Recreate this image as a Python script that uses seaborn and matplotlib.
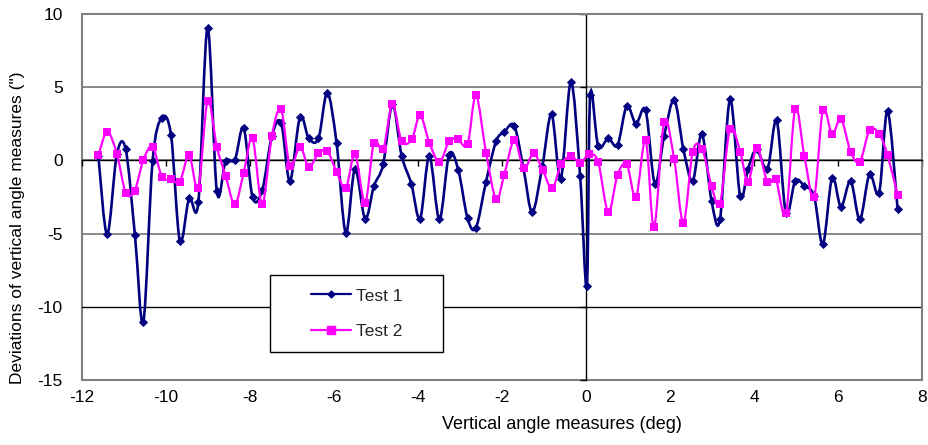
import numpy as np
import matplotlib
matplotlib.use("Agg")
import matplotlib.pyplot as plt
from matplotlib.path import Path
from matplotlib.patches import PathPatch, Rectangle
from matplotlib.lines import Line2D
import seaborn as sns

# ---------------- data ----------------
x_test1 = [-11.61, -11.40, -11.17, -10.96, -10.74, -10.54, -10.32, -10.10, -9.88, -9.67,
           -9.45, -9.23, -9.01, -8.79, -8.58, -8.36, -8.15, -7.94, -7.71, -7.48,
           -7.26, -7.05, -6.81, -6.60, -6.37, -6.16, -5.94, -5.72, -5.50, -5.26,
           -5.05, -4.83, -4.61, -4.39, -4.16, -3.95, -3.73, -3.49, -3.26, -3.04,
           -2.82, -2.62, -2.38, -2.14, -1.95, -1.71, -1.49, -1.28, -1.04, -0.82,
           -0.60, -0.36, -0.14, 0.02, 0.10, 0.29, 0.53, 0.75, 0.97, 1.19,
           1.42, 1.64, 1.86, 2.10, 2.32, 2.54, 2.76, 2.99, 3.19, 3.43,
           3.67, 3.86, 4.06, 4.32, 4.54, 4.76, 4.98, 5.20, 5.43, 5.64,
           5.86, 6.07, 6.30, 6.52, 6.75, 6.98, 7.18, 7.42]
y_test1 = [0.29, -5.05, 0.41, 0.75, -5.10, -11.04, -0.05, 2.91, 1.71, -5.51,
           -2.59, -2.85, 9.06, -2.10, -0.05, 0.05, 2.23, -2.51, -2.05, 1.66,
           2.57, -1.41, 2.96, 1.50, 1.50, 4.62, 1.21, -4.94, -0.57, -3.98,
           -1.75, -0.27, 3.82, 0.32, -1.58, -3.98, 0.29, -4.03, 0.39, -0.66,
           -3.96, -4.59, -1.45, 1.32, 1.91, 2.37, -0.53, -3.53, -0.41, 3.14,
           -1.25, 5.34, -1.07, -8.58, 4.44, 0.98, 1.50, 1.04, 3.71, 2.51,
           3.41, -1.59, 1.66, 4.12, 0.75, -1.41, 1.80, -2.78, -4.03, 4.16,
           -2.44, -0.57, 0.75, -0.57, 2.73, -3.62, -1.41, -1.75, -2.44, -5.73,
           -1.18, -3.16, -1.41, -4.03, -0.96, -2.20, 3.37, -3.34]

x_test2 = [-11.61, -11.40, -11.17, -10.96, -10.75, -10.54, -10.32, -10.10, -9.88, -9.67,
           -9.45, -9.23, -9.01, -8.79, -8.58, -8.36, -8.15, -7.94, -7.71, -7.48,
           -7.26, -7.05, -6.81, -6.60, -6.37, -6.16, -5.94, -5.72, -5.50, -5.26,
           -5.05, -4.83, -4.61, -4.39, -4.15, -3.95, -3.73, -3.49, -3.26, -3.05,
           -2.82, -2.62, -2.38, -2.14, -1.95, -1.71, -1.48, -1.25, -1.03, -0.81,
           -0.59, -0.36, -0.14, 0.08, 0.29, 0.53, 0.75, 0.97, 1.19, 1.42,
           1.62, 1.86, 2.10, 2.32, 2.54, 2.76, 2.99, 3.19, 3.43, 3.67,
           3.86, 4.07, 4.32, 4.52, 4.76, 4.98, 5.20, 5.43, 5.64, 5.86,
           6.07, 6.30, 6.52, 6.75, 6.98, 7.18, 7.42]
y_test2 = [0.36, 1.96, 0.46, -2.20, -2.10, 0.02, 0.94, -1.11, -1.30, -1.45,
           0.34, -1.86, 4.05, 0.94, -1.07, -3.00, -0.84, 1.50, -3.00, 1.66,
           3.48, -0.39, 0.94, -0.46, 0.48, 0.63, -0.77, -1.91, 0.41, -2.89,
           1.21, 0.75, 3.82, 1.32, 1.43, 3.07, 1.21, -0.12, 1.32, 1.43,
           1.09, 4.44, 0.53, -2.66, -1.02, 1.37, -0.55, 0.48, -0.66, -1.91,
           -0.27, 0.29, -0.16, 0.41, -0.12, -3.53, -1.00, -0.27, -2.51, 1.39,
           -4.55, 2.64, 0.07, -4.25, 0.57, 0.80, -1.75, -2.96, 2.16, 0.59,
           -1.48, 0.87, -1.48, -1.30, -3.62, 3.53, 0.29, -2.51, 3.41, 1.77,
           2.85, 0.59, -0.09, 2.05, 1.82, 0.34, -2.37]

series_names = ["Test 1", "Test 2"]
x_ticks = [-12, -10, -8, -6, -4, -2, 0, 2, 4, 6, 8]
y_ticks = [-15, -10, -5, 0, 5, 10]
x_label = "Vertical angle measures (deg)"
y_label = "Deviations of vertical angle measures (\")"

# ---------------- style ----------------
sns.set_style("white")
plt.rcParams["font.family"] = ["Liberation Sans", "DejaVu Sans"]
plt.rcParams["axes.unicode_minus"] = False
FS_TICK = 12.5
FS_XLAB = 13
FS_YLAB = 12.5
FS_LEG = 12.5
NAVY = "#000080"
PINK = "#FF00FF"
GRID = "#808080"


def smooth_path(xs, ys):
    """Excel-like smoothed line: cubic Bezier segments through the data points."""
    P = np.column_stack([xs, ys]).astype(float)
    n = len(P)
    verts = [P[0]]
    codes = [Path.MOVETO]
    for i in range(n - 1):
        p0 = P[i - 1] if i > 0 else P[i]
        p1 = P[i]
        p2 = P[i + 1]
        p3 = P[i + 2] if i + 2 < n else P[i + 1]
        verts += [p1 + (p2 - p0) / 6.0, p2 - (p3 - p1) / 6.0, p2]
        codes += [Path.CURVE4] * 3
    return Path(verts, codes)


fig = plt.figure(figsize=(9.29, 4.45), dpi=100)
ax = fig.add_axes([82 / 929, 1 - 380 / 445, 840 / 929, 366 / 445])

# Test 1
ax.add_patch(PathPatch(smooth_path(x_test1, y_test1), fill=False,
                       edgecolor=NAVY, lw=1.9, zorder=3, transform=ax.transData))
sns.scatterplot(x=x_test1, y=y_test1, ax=ax, marker="D", s=22, color=NAVY,
                edgecolor=NAVY, linewidth=0, zorder=4, legend=False)
# Test 2
ax.add_patch(PathPatch(smooth_path(x_test2, y_test2), fill=False,
                       edgecolor=PINK, lw=1.6, zorder=5, transform=ax.transData))
sns.scatterplot(x=x_test2, y=y_test2, ax=ax, marker="s", s=34, color=PINK,
                edgecolor=PINK, linewidth=0, zorder=6, legend=False)

ax.set_xlim(x_ticks[0], x_ticks[-1])
ax.set_ylim(y_ticks[0], y_ticks[-1])
ax.set_xticks(x_ticks)
ax.set_yticks(y_ticks)

# axes crossing at zero (Excel style) with small tick marks, labels on the outer frame
ax.spines["left"].set_position(("data", 0))
ax.spines["bottom"].set_position(("data", 0))
for s in ("left", "bottom"):
    ax.spines[s].set_color("black")
    ax.spines[s].set_linewidth(1.0)
    ax.spines[s].set_zorder(2.5)
for s in ("top", "right"):
    ax.spines[s].set_color(GRID)
    ax.spines[s].set_linewidth(1.5)
ax.tick_params(axis="both", which="major", direction="out", length=4, width=1,
               color="black", labelbottom=False, labelleft=False,
               bottom=True, left=True)

ax.grid(axis="y", color=GRID, lw=1.3)
ax.grid(axis="x", visible=False)
ax.set_axisbelow(True)
for tick_val, gl in zip(y_ticks, ax.yaxis.get_gridlines()):
    if tick_val == -10:
        gl.set_color("black")
        gl.set_linewidth(1.0)

secx = ax.secondary_xaxis("bottom")
secx.set_xticks(x_ticks)
secx.tick_params(length=0, pad=7, labelsize=FS_TICK, labelcolor="black")
secx.spines["bottom"].set_color(GRID)
secx.spines["bottom"].set_linewidth(1.5)

secy = ax.secondary_yaxis("left")
secy.set_yticks(y_ticks)
secy.tick_params(length=0, pad=14, labelsize=FS_TICK, labelcolor="black")
secy.spines["left"].set_color(GRID)
secy.spines["left"].set_linewidth(1.5)

ax.set_xlabel(x_label, fontsize=FS_XLAB, color="black")
ax.xaxis.set_label_coords(0.571, -0.098)
ax.set_ylabel(y_label, fontsize=FS_YLAB, color="black")
ax.yaxis.set_label_coords(-0.068, 0.415)

# legend box
ax.add_patch(Rectangle((0.2238, 0.0765), 0.206, 0.210, transform=ax.transAxes,
                       facecolor="white", edgecolor="black", lw=1.0, zorder=7))
handles = [Line2D([], [], color=NAVY, lw=1.6, marker="D", markersize=3.5),
           Line2D([], [], color=PINK, lw=1.6, marker="s", markersize=5.5)]
leg = ax.legend(handles, series_names, loc="center", bbox_to_anchor=(0.3268, 0.1817),
                frameon=False, fontsize=FS_LEG, handlelength=2.3, handletextpad=0.3,
                labelspacing=1.15)
leg.set_zorder(8)

fig.savefig("out.png", dpi=100, facecolor="white")
